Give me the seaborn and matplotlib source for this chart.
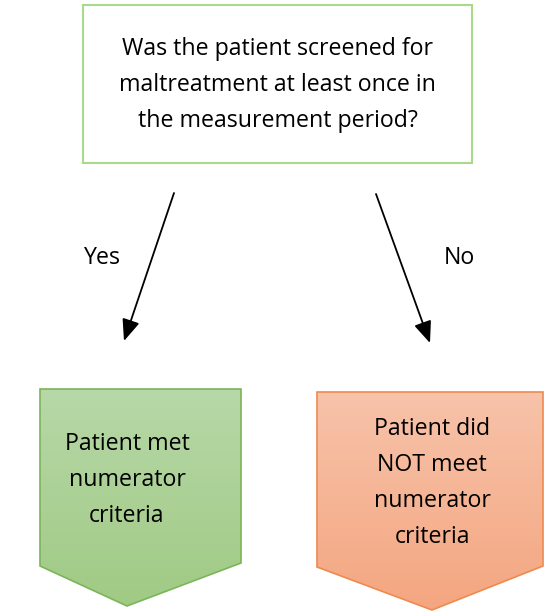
import numpy as np
import matplotlib
matplotlib.use("Agg")
import matplotlib.pyplot as plt
from matplotlib.patches import Polygon, Rectangle
from matplotlib.colors import LinearSegmentedColormap
import seaborn as sns

# flowchart content
question = "Was the patient screened for\nmaltreatment at least once in\nthe measurement period?"
branch_labels = ["Yes", "No"]
outcomes = ["Patient met\nnumerator\ncriteria", "Patient did\nNOT meet\nnumerator\ncriteria"]
outcome_top = [["#b7d8a8", "#a0ca84"], ["#f7c3aa", "#f4a680"]]
outcome_edge = ["#7cb45a", "#ef8a4e"]

sns.set_theme(style="white")
plt.rcParams["font.family"] = ["Open Sans", "DejaVu Sans"]
plt.rcParams["text.color"] = "black"

fig = plt.figure(figsize=(5.44, 6.12), dpi=100)
ax = fig.add_axes([0, 0, 1, 1])
ax.set_xlim(0, 544)
ax.set_ylim(612, 0)
ax.axis("off")

fs = 16.7
ls = 1.68

# question box
ax.add_patch(Rectangle((83, 5), 389, 158, facecolor="white", edgecolor="#a9d98a", lw=1.5))
ax.text(277.5, 85, question, ha="center", va="center", fontsize=fs, linespacing=ls)

# arrows
arrows = [((174, 193), (124, 341)), ((376, 194), (430, 343))]
for (x0, y0), (x1, y1) in arrows:
    ax.annotate("", xy=(x1, y1), xytext=(x0, y0),
                arrowprops=dict(arrowstyle="-|>,head_length=1.1,head_width=0.45",
                                color="black", lw=1.3, shrinkA=0, shrinkB=0))
ax.text(102, 258, branch_labels[0], ha="center", va="center", fontsize=fs)
ax.text(459, 258, branch_labels[1], ha="center", va="center", fontsize=fs)

# outcome pentagons
shapes = [
    [(40, 389), (241, 389), (241, 563), (127, 606), (40, 566)],
    [(317, 392), (543, 392), (543, 566), (432, 610), (317, 567)],
]
text_y = [480, 483]
for pts, cols, edge, label, ty in zip(shapes, outcome_top, outcome_edge, outcomes, text_y):
    poly = Polygon(pts, closed=True, facecolor="none", edgecolor=edge, lw=1.2, zorder=3)
    ax.add_patch(poly)
    xs = [p[0] for p in pts]
    ys = [p[1] for p in pts]
    cmap = LinearSegmentedColormap.from_list("g", cols)
    grad = np.linspace(0, 1, 256).reshape(-1, 1)
    im = ax.imshow(grad, cmap=cmap, aspect="auto",
                   extent=(min(xs), max(xs), max(ys), min(ys)), zorder=2)
    im.set_clip_path(poly)
    ax.text(xs[3], ty, label, ha="center", va="center", fontsize=fs,
            linespacing=ls, zorder=4)

ax.set_xlim(0, 544)
ax.set_ylim(612, 0)
fig.savefig("out.png", dpi=100)
